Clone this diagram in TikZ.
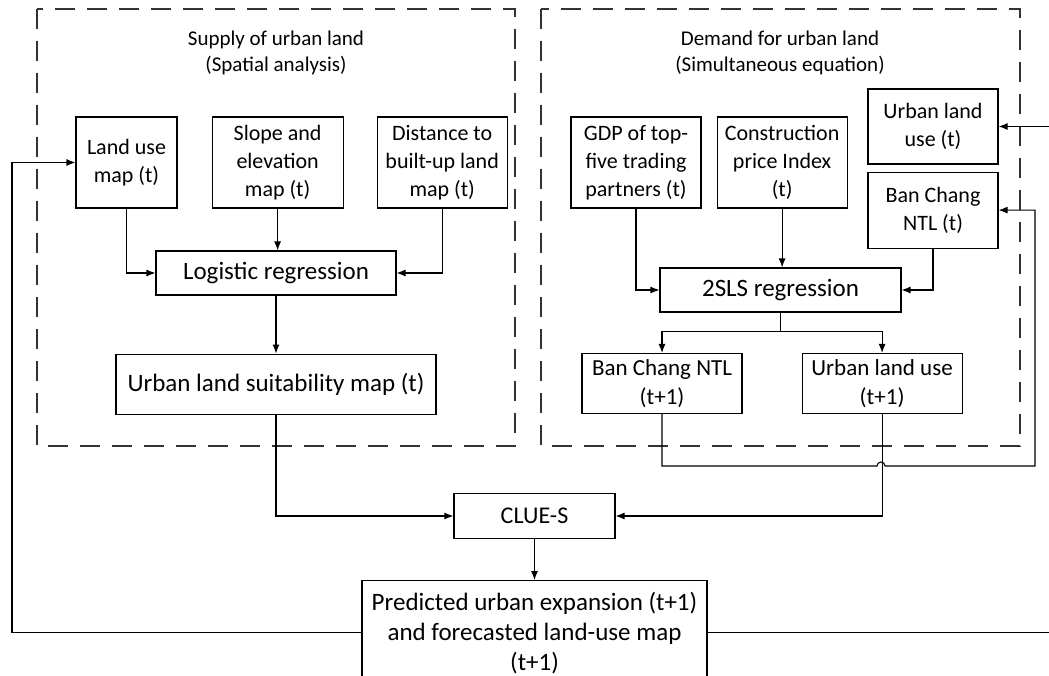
\documentclass[tikz,border=0pt]{standalone}
\usepackage{fontspec}
\setmainfont{Carlito}
\usetikzlibrary{positioning,calc,arrows.meta}

\begin{document}
\begin{tikzpicture}
  [x=1pt,y=-1pt,line width=1.1pt,node distance=34pt,
   font=\fontsize{22}{28}\selectfont,
   boxN/.style={draw,align=center,inner sep=1pt,minimum width=130pt,minimum height=91pt},
   wideN/.style={boxN,minimum height=44pt,minimum width=240pt,font=\fontsize{25}{30}\selectfont},
   titleN/.style={align=center,font=\fontsize{21}{26}\selectfont},
   groupF/.style={black!80,dash pattern=on 20pt off 12pt},
   arr/.style={-{Latex[length=9pt,width=7pt]}},
  ]

 \useasboundingbox (0,0) rectangle (1049,676);

 % the two frames
 \draw[groupF] (37,9) rectangle (515,446);
 \draw[groupF] (541,9) rectangle (1020,446);
 \node[titleN] (supT) at (276,53) {Supply of urban land\\(Spatial analysis)};
 \node[titleN] (demT) at (780,53) {Demand for urban land\\(Simultaneous equation)};

 % supply side
 \node[boxN,minimum width=101pt] (landuse) at (126.5,162.5) {Land use\\map (t)};
 \node[boxN,minimum width=131pt] (slope) [right=of landuse] {Slope and\\elevation\\map (t)};
 \node[boxN] (dist) [right=33pt of slope] {Distance to\\built-up land\\map (t)};
 \node[wideN] (logit) at (276,273) {Logistic regression};
 \node[wideN,minimum width=320pt,minimum height=60pt] (suit) [below=58pt of logit] {Urban land suitability map (t)};

 % demand side
 \node[boxN] (gdp) at (636,162.5) {GDP of top-\\five trading\\partners (t)};
 \node[boxN] (constr) [right=15pt of gdp] {Construction\\price Index\\(t)};
 \node[boxN,minimum height=75pt] (uluT) at (933,126.5) {Urban land\\use (t)};
 \node[boxN,minimum height=76pt] (bcT) [below=7pt of uluT] {Ban Chang\\NTL (t)};
 \node[wideN,minimum width=241pt] (tsls) at (780.5,290) {2SLS regression};
 \node[boxN,minimum width=160pt,minimum height=60pt,font=\fontsize{23}{29}\selectfont] (bcN) at (662,383.5) {Ban Chang NTL\\(t+1)};
 \node[boxN,minimum width=160pt,minimum height=60pt,font=\fontsize{23}{29}\selectfont] (uluN) [right=59pt of bcN] {Urban land use\\(t+1)};

 % simulation
 \node[wideN,minimum width=161pt,minimum height=45pt,font=\fontsize{24}{30}\selectfont] (clue) at (534.5,516) {CLUE-S};
 \node[wideN,minimum width=345pt,minimum height=104pt] (pred) [below=41pt of clue]
   {Predicted urban expansion (t+1)\\and forecasted land-use map\\(t+1)};

 \coordinate (fb) at (12,162.5);
 \coordinate (inR) at (1049,126.5);
 \coordinate (outR) at (1049,0);
 \coordinate (hopL) at (877,466);
 \coordinate (loopR) at (1035,466);

 \draw[arr] (landuse.south) |- (logit.west);
 \draw[arr] (slope.south) -- (slope.south |- logit.north);
 \draw[arr] (dist.south) |- (logit.east);
 \draw[arr] (logit) -- (suit);
 \draw[arr] (suit.south) |- (clue.west);

 \draw[arr] (gdp.south) |- (tsls.west);
 \draw[arr] (constr.south) -- (constr.south |- tsls.north);
 \draw[arr] (bcT.south) |- (tsls.east);
 \draw (tsls.south) -- ++(0,19) coordinate (split);
 \draw[arr] (split) -| (bcN.north);
 \draw[arr] (split) -| (uluN.north);
 \draw[arr] (uluN.south) |- (clue.east);
 \draw[arr] (bcN.south) |- (hopL) arc[start angle=180,end angle=0,radius=4pt]
            -- (loopR) |- (bcT.east);
 \draw[arr] (inR) -- (uluT.east);

 \draw[arr] (clue) -- (pred);
 \draw[arr] (pred.west) -| (fb) -- (landuse.west);
 \draw (pred.east) -- (pred.east -| outR);

\end{tikzpicture}
\end{document}
